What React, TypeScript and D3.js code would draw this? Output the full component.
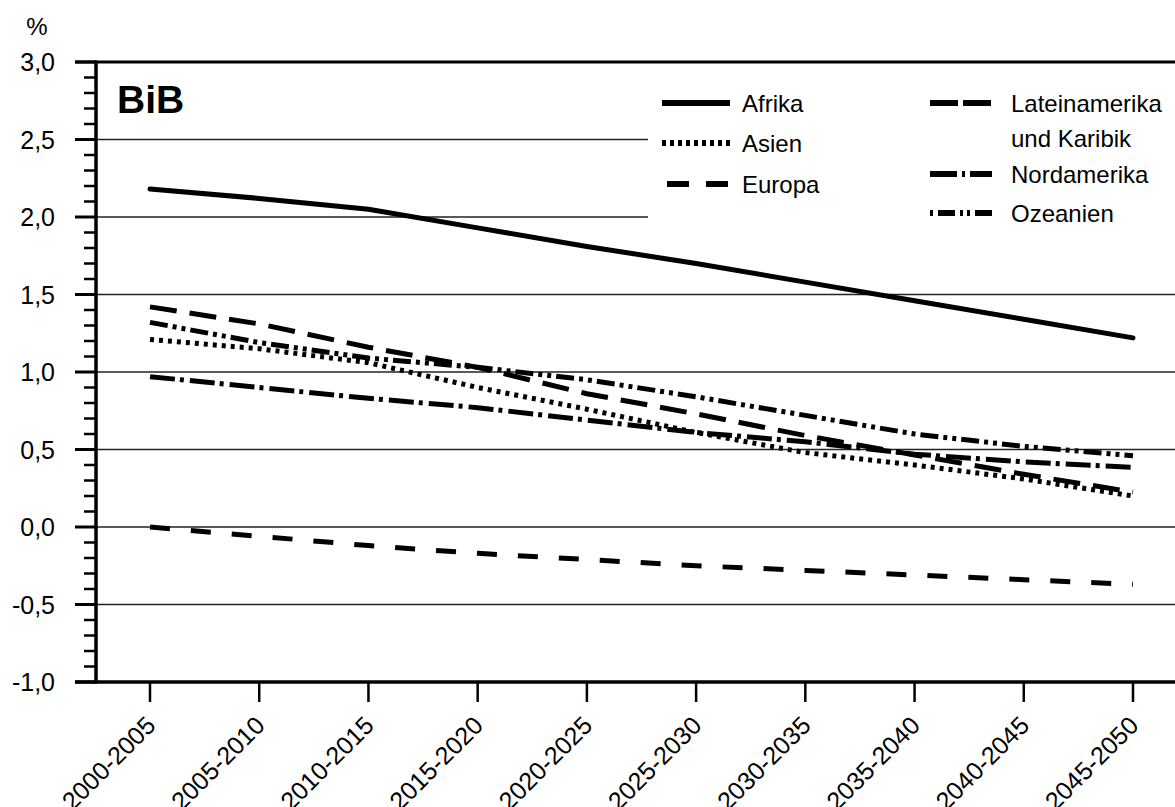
import React, { useEffect, useRef } from 'react';
import * as d3 from 'd3';

const periods = ['2000-2005', '2005-2010', '2010-2015', '2015-2020', '2020-2025', '2025-2030', '2030-2035', '2035-2040', '2040-2045', '2045-2050'];
const afrika = [2.18, 2.12, 2.05, 1.93, 1.81, 1.70, 1.58, 1.46, 1.34, 1.22];
const asien = [1.21, 1.15, 1.06, 0.90, 0.76, 0.61, 0.48, 0.40, 0.31, 0.20];
const europa = [0.0, -0.06, -0.12, -0.17, -0.21, -0.25, -0.28, -0.31, -0.34, -0.37];
const lateinamerika = [1.42, 1.31, 1.16, 1.03, 0.86, 0.73, 0.59, 0.465, 0.34, 0.225];
const nordamerika = [0.97, 0.90, 0.83, 0.77, 0.69, 0.61, 0.55, 0.47, 0.42, 0.385];
const ozeanien = [1.32, 1.19, 1.09, 1.03, 0.95, 0.84, 0.72, 0.60, 0.52, 0.46];
const yTickLabels = ['3,0', '2,5', '2,0', '1,5', '1,0', '0,5', '0,0', '-0,5', '-1,0'];
const yTickValues = [3.0, 2.5, 2.0, 1.5, 1.0, 0.5, 0.0, -0.5, -1.0];

const FONT = '"Liberation Sans", Arial, Helvetica, sans-serif';

const series = [
  { name: 'Afrika', values: afrika, dash: null, legendDash: null },
  { name: 'Asien', values: asien, dash: '4,5', legendDash: '4,4' },
  { name: 'Europa', values: europa, dash: '20,21', legendDash: '22,17' },
  { name: 'Lateinamerika', values: lateinamerika, dash: '27,13', legendDash: '28,5' },
  { name: 'Nordamerika', values: nordamerika, dash: '25,5,4,6', legendDash: '27,5,3,5' },
  { name: 'Ozeanien', values: ozeanien, dash: '18,5,4,5,4,5', legendDash: '3,5,17,5,3,4,3,5,30' },
];

const legendItems = [
  { idx: 0, col: 0, row: 103, lines: ['Afrika'] },
  { idx: 1, col: 0, row: 143, lines: ['Asien'] },
  { idx: 2, col: 0, row: 184, lines: ['Europa'] },
  { idx: 3, col: 1, row: 103, lines: ['Lateinamerika', 'und Karibik'] },
  { idx: 4, col: 1, row: 174, lines: ['Nordamerika'] },
  { idx: 5, col: 1, row: 213, lines: ['Ozeanien'] },
];

export default function App() {
  const ref = useRef<SVGSVGElement>(null);
  useEffect(() => {
    const svg = d3.select(ref.current);
    svg.selectAll('*').remove();
    const W = 1175;
    const x = d3.scalePoint<string>().domain(periods).range([150, 1133]);
    const y = d3.scaleLinear().domain([-1, 3]).range([682, 62]);
    const axisX = 96;

    // gridlines
    svg.append('g').selectAll('line')
      .data(yTickValues.filter(v => v < 3 && v > -1))
      .join('line')
      .attr('x1', 75).attr('x2', W)
      .attr('y1', d => y(d)).attr('y2', d => y(d))
      .attr('stroke', '#222').attr('stroke-width', 1.5);

    // legend background
    svg.append('rect').attr('x', 648).attr('y', 72).attr('width', W - 648).attr('height', 160).attr('fill', '#fff');

    // data lines
    const line = d3.line<number>().x((_, i) => x(periods[i]) as number).y(d => y(d));
    series.forEach(s => {
      svg.append('path')
        .attr('d', line(s.values) as string)
        .attr('fill', 'none')
        .attr('stroke', '#000')
        .attr('stroke-width', 5)
        .attr('stroke-linecap', s.dash ? 'butt' : 'round')
        .attr('stroke-linejoin', 'round')
        .attr('stroke-dasharray', s.dash ?? null);
    });

    // legend
    const colLine = [[662, 730], [930, 992]];
    const colText = [742, 1011];
    legendItems.forEach(it => {
      const s = series[it.idx];
      const [lx1, lx2] = colLine[it.col];
      svg.append('line')
        .attr('x1', lx1 + (s.name === 'Europa' ? 5 : 0)).attr('x2', lx2)
        .attr('y1', it.row).attr('y2', it.row)
        .attr('stroke', '#000').attr('stroke-width', 6)
        .attr('stroke-dasharray', s.legendDash ?? null);
      it.lines.forEach((t, k) => {
        svg.append('text')
          .attr('x', colText[it.col]).attr('y', it.row + 8.5 + k * 35)
          .attr('font-family', FONT).attr('font-size', 24)
          .attr('fill', '#000')
          .text(t);
      });
    });

    // top border
    svg.append('line').attr('x1', 75).attr('x2', W).attr('y1', y(3)).attr('y2', y(3))
      .attr('stroke', '#000').attr('stroke-width', 3);
    // bottom axis
    svg.append('line').attr('x1', 75).attr('x2', W).attr('y1', y(-1)).attr('y2', y(-1))
      .attr('stroke', '#000').attr('stroke-width', 3.5);
    // left axis
    svg.append('line').attr('x1', axisX).attr('x2', axisX).attr('y1', y(3) - 1.5).attr('y2', y(-1) + 1.5)
      .attr('stroke', '#000').attr('stroke-width', 3.5);

    // minor ticks
    const minor = d3.range(-10, 31).map(v => v / 10).filter(v => Math.abs(v * 2 - Math.round(v * 2)) > 1e-6);
    svg.append('g').selectAll('line').data(minor).join('line')
      .attr('x1', 84).attr('x2', axisX)
      .attr('y1', d => y(d)).attr('y2', d => y(d))
      .attr('stroke', '#000').attr('stroke-width', 2.5);
    // major ticks
    svg.append('g').selectAll('line').data(yTickValues).join('line')
      .attr('x1', 75).attr('x2', axisX)
      .attr('y1', d => y(d)).attr('y2', d => y(d))
      .attr('stroke', '#000').attr('stroke-width', 3);
    // y labels
    svg.append('g').selectAll('text').data(yTickValues).join('text')
      .attr('x', 55).attr('y', d => y(d) + 9)
      .attr('text-anchor', 'end')
      .attr('font-family', FONT).attr('font-size', 25).attr('fill', '#000')
      .text((_, i) => yTickLabels[i]);

    // x ticks
    svg.append('g').selectAll('line').data(periods).join('line')
      .attr('x1', d => x(d) as number).attr('x2', d => x(d) as number)
      .attr('y1', y(-1)).attr('y2', 702)
      .attr('stroke', '#000').attr('stroke-width', 2.5);
    // x labels
    svg.append('g').selectAll('text').data(periods).join('text')
      .attr('transform', d => `translate(${(x(d) as number) + 7},727) rotate(-45)`)
      .attr('text-anchor', 'end')
      .attr('font-family', FONT).attr('font-size', 25).attr('fill', '#000')
      .text(d => d);

    // unit
    svg.append('text').attr('x', 37).attr('y', 35).attr('text-anchor', 'middle')
      .attr('font-family', FONT).attr('font-size', 24).attr('fill', '#000').text('%');
    // BiB
    svg.append('text').attr('x', 117).attr('y', 113)
      .attr('font-family', FONT).attr('font-size', 39).attr('font-weight', 'bold').attr('fill', '#000').text('BiB');
  }, []);
  return (
    <svg ref={ref} width={1175} height={807}
      style={{ position: 'absolute', left: 0, top: 0, background: '#fff', display: 'block' }} />
  );
}
